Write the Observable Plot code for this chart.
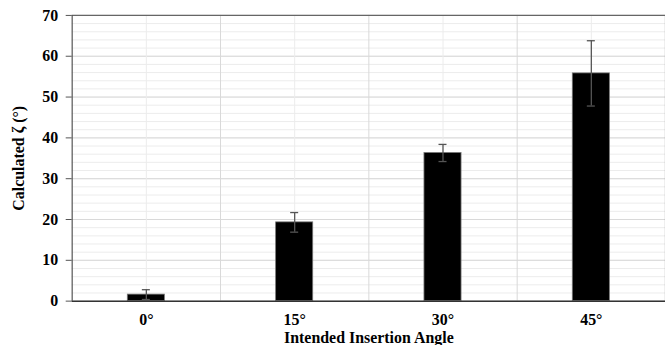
<!DOCTYPE html>
<html><head><meta charset="utf-8">
<script src="https://cdn.jsdelivr.net/npm/d3@7"></script>
<script src="https://cdn.jsdelivr.net/npm/@observablehq/plot@0.6"></script>
<style>
html,body{margin:0;padding:0;background:#fff;overflow:hidden;}
svg{font-family:"Liberation Serif","Times New Roman",serif;}
</style></head>
<body><div id="chart"></div>
<script>
const categories = ["0°", "15°", "30°", "45°"];
const means = [1.6, 19.3, 36.3, 55.8];
const errors = [1.2, 2.4, 2.1, 8.0];
const yTicks = [0, 10, 20, 30, 40, 50, 60, 70];
const minorTicks = d3.range(0, 71, 2);

const data = categories.map((c, i) => ({c, i, m: means[i], e: errors[i]}));
const half = 0.125;
const capHalf = 0.027;
const boundaries = [0.5, 1.5, 2.5];

const chart = Plot.plot({
  width: 668, height: 347,
  marginLeft: 72, marginRight: 0, marginTop: 15, marginBottom: 45,
  x: {type: "linear", domain: [-0.5, 3.5]},
  y: {domain: [0, 70]},
  style: {fontFamily: "'Liberation Serif','Times New Roman',serif", fontSize: "16px", fontWeight: "bold", color: "#000"},
  marks: [
    Plot.ruleY(minorTicks, {stroke: "#ececec", strokeWidth: 1}),
    Plot.ruleY(yTicks, {stroke: "#d9d9d9", strokeWidth: 1}),
    Plot.ruleX(data, {x: "i", stroke: "#ececec", strokeWidth: 1}),
    Plot.ruleX(boundaries, {stroke: "#d9d9d9", strokeWidth: 1}),
    Plot.ruleY([70], {stroke: "#666", strokeWidth: 1.2}),
    Plot.ruleX([3.5], {stroke: "#666", strokeWidth: 1.2}),
    Plot.rectY(data, {x1: d => d.i - half, x2: d => d.i + half, y: "m", fill: "#000", stroke: "#777", strokeWidth: 0.8}),
    Plot.ruleX(data, {x: "i", y1: d => d.m - d.e, y2: d => d.m + d.e, stroke: "#555", strokeWidth: 1.3}),
    Plot.ruleY(data, {y: d => d.m + d.e, x1: d => d.i - capHalf, x2: d => d.i + capHalf, stroke: "#555", strokeWidth: 1.3}),
    Plot.ruleY(data, {y: d => d.m - d.e, x1: d => d.i - capHalf, x2: d => d.i + capHalf, stroke: "#555", strokeWidth: 1.3}),
    Plot.axisY({ticks: yTicks, tickSize: 6, tickPadding: 8, stroke: "#555", label: "Calculated ζ (°)", labelAnchor: "center", labelArrow: "none", labelOffset: 60, fontSize: 16, fontWeight: "bold"}),
    Plot.ruleX([-0.5], {stroke: "#555", strokeWidth: 1.2}),
    Plot.axisX({ticks: [0, 1, 2, 3], tickFormat: i => categories[i], tickSize: 0, tickPadding: 13, label: "Intended Insertion Angle", labelAnchor: "center", labelArrow: "none", labelOffset: 42, fontSize: 16, fontWeight: "bold"}),
    Plot.ruleY([0], {stroke: "#333", strokeWidth: 1.5})
  ]
});
document.getElementById("chart").appendChild(chart);
</script></body></html>
